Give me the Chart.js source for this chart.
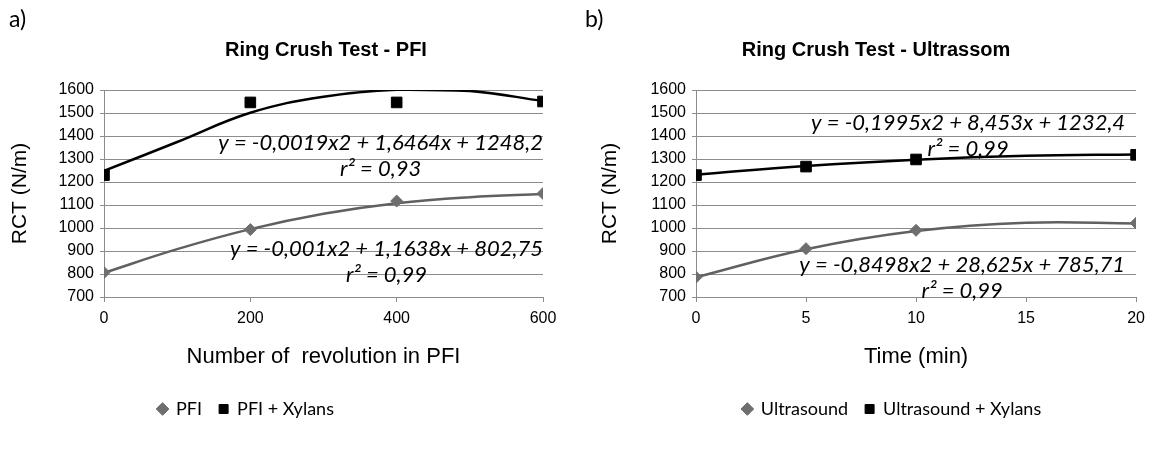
<!DOCTYPE html>
<html>
<head>
<meta charset="utf-8">
<script src="https://cdn.jsdelivr.net/npm/chart.js@4.4.1/dist/chart.umd.min.js"></script>
<style>
  body { margin: 0; background: #fff; }
  .panel { position: absolute; top: 0; width: 576px; height: 453px; }
  .tag { position: absolute; top: 4px; font-family: Lato, "Open Sans", sans-serif; font-size: 23px; color: #000; }
</style>
</head>
<body>
<div class="panel" style="left:0"><canvas id="chartA" width="576" height="453"></canvas></div>
<div class="panel" style="left:576px"><canvas id="chartB" width="576" height="453"></canvas></div>
<div class="tag" style="left:9px">a)</div>
<div class="tag" style="left:585px">b)</div>
<script>
// a) PFI refining
const pfiRevs = [0, 200, 400, 600];
const pfiRct = [806, 993, 1117, 1150];
const pfiXylRct = [1230, 1546, 1546, 1550];
// trendline values
const pfiTrendRevs = [0, 100, 200, 300, 400, 500, 600];
const pfiTrend = [805, 908, 995, 1062, 1108, 1134, 1148];
const pfiXylTrend = [1248, 1374, 1501, 1571, 1601, 1596, 1552];

// b) ultrasound time
const usMinutes = [0, 5, 10, 20];
const usRct = [786, 910, 990, 1021];
const usXylRct = [1230, 1267, 1298, 1318];
const usTrendMinutes = [0, 5, 10, 15, 20];
const usTrend = [786, 908, 987, 1023, 1020];
const usXylTrend = [1232, 1270, 1297, 1314, 1320];

const yMin = 700, yMax = 1600, yStep = 100;

const GRAY = '#6e6e6e';
const BLACK = '#000000';
const GRID = '#8c8c8c';
const ARIAL = 'Liberation Sans, Arial, sans-serif';

function pts(xs, ys) {
  return xs.map((x, i) => ({ x: x, y: ys[i] }));
}

// trendline equation text, anchored by its right edge (x) and middle (y) in data units
const eqPlugin = {
  id: 'eqLabels',
  afterDatasetsDraw(chart, args, opts) {
    const ctx = chart.ctx;
    const xs = chart.scales.x, ys = chart.scales.y;
    ctx.save();
    ctx.fillStyle = '#000';
    ctx.font = 'italic 22px Lato, sans-serif';
    ctx.textBaseline = 'middle';
    opts.labels.forEach(l => {
      const px = xs.getPixelForValue(l.x);
      const py = ys.getPixelForValue(l.y);
      const w = ctx.measureText(l.eq).width;
      ctx.textAlign = 'right';
      ctx.fillText(l.eq, px, py);
      ctx.textAlign = 'center';
      ctx.fillText(l.r2, px - w / 2, py + 26);
    });
    ctx.restore();
  }
};

// move title and legend to the horizontal centres used in the figure
const shiftPlugin = {
  id: 'shiftBlocks',
  afterLayout(chart, args, opts) {
    const t = chart.titleBlock;
    const dt = opts.titleCenter - (t.left + t.right) / 2;
    t.left += dt; t.right += dt;
    const lg = chart.legend;
    const dl = opts.legendCenter - (lg.left + lg.right) / 2;
    lg.left += dl; lg.right += dl;
  }
};

function makeChart(id, cfg) {
  return new Chart(document.getElementById(id), {
    type: 'scatter',
    data: {
      datasets: [
        { label: cfg.names[0], data: pts(cfg.xs, cfg.a), showLine: false,
          pointStyle: 'rectRot', pointRadius: 6, pointHoverRadius: 6,
          backgroundColor: GRAY, borderColor: GRAY, order: 1 },
        { label: cfg.names[1], data: pts(cfg.xs, cfg.b), showLine: false,
          pointStyle: 'rect', pointRadius: 7.5, pointHoverRadius: 7.5,
          backgroundColor: BLACK, borderColor: BLACK, order: 1 },
        { label: 'trendA', data: pts(cfg.tx, cfg.ta), showLine: true, pointRadius: 0,
          borderColor: '#606060', borderWidth: 2.5, tension: 0.4, order: 2 },
        { label: 'trendB', data: pts(cfg.tx, cfg.tb), showLine: true, pointRadius: 0,
          borderColor: BLACK, borderWidth: 2.5, tension: 0.4, order: 2 }
      ]
    },
    options: {
      responsive: false,
      animation: false,
      layout: { padding: { left: 0, right: cfg.padRight, top: 0, bottom: 25 } },
      plugins: {
        title: {
          display: true, text: cfg.title, color: '#000',
          font: { family: ARIAL, size: 20, weight: 'bold' },
          padding: { top: 38, bottom: 28 }
        },
        legend: {
          position: 'bottom',
          labels: {
            usePointStyle: true, boxWidth: 9, boxHeight: 9, padding: 17,
            color: '#000', font: { family: 'Lato, sans-serif', size: 18 },
            filter: item => !item.text.startsWith('trend')
          }
        },
        tooltip: { enabled: false },
        eqLabels: { labels: cfg.labels },
        shiftBlocks: { titleCenter: cfg.titleCenter, legendCenter: cfg.legendCenter }
      },
      scales: {
        x: {
          type: 'linear', min: cfg.xMin, max: cfg.xMax,
          ticks: { stepSize: cfg.xStep, color: '#000', padding: 7,
                   font: { family: ARIAL, size: 16 }, callback: v => String(v) },
          grid: { drawOnChartArea: false, drawTicks: true, tickLength: 5, color: GRID },
          border: { color: GRID },
          title: { display: true, text: cfg.xTitle, color: '#000',
                   font: { family: ARIAL, size: 22 },
                   padding: { top: 4, bottom: 13 } },
          afterFit: s => { s.height = 86; }
        },
        y: {
          min: yMin, max: yMax,
          ticks: { stepSize: yStep, color: '#000', padding: 6,
                   font: { family: ARIAL, size: 16 }, callback: v => String(v) },
          grid: { color: GRID, tickLength: 4 },
          border: { color: GRID },
          title: { display: true, text: 'RCT (N/m)', color: '#000',
                   font: { family: ARIAL, size: 21 },
                   padding: { top: cfg.yTitlePad, bottom: 0 } },
          afterFit: s => { s.width = cfg.yWidth; }
        }
      }
    },
    plugins: [eqPlugin, shiftPlugin]
  });
}

makeChart('chartA', {
  title: 'Ring Crush Test - PFI',
  names: ['PFI', 'PFI + Xylans'],
  xs: pfiRevs, a: pfiRct, b: pfiXylRct,
  tx: pfiTrendRevs, ta: pfiTrend, tb: pfiXylTrend,
  xMin: 0, xMax: 600, xStep: 200,
  xTitle: 'Number of  revolution in PFI',
  yWidth: 104, yTitlePad: 8, padRight: 33,
  titleCenter: 326, legendCenter: 246,
  labels: [
    { eq: 'y = -0,0019x2 + 1,6464x + 1248,2', r2: 'r² = 0,93', x: 600, y: 1370 },
    { eq: 'y = -0,001x2 + 1,1638x + 802,75', r2: 'r² = 0,99', x: 600, y: 910 }
  ]
});

makeChart('chartB', {
  title: 'Ring Crush Test - Ultrassom',
  names: ['Ultrasound', 'Ultrasound + Xylans'],
  xs: usMinutes, a: usRct, b: usXylRct,
  tx: usTrendMinutes, ta: usTrend, tb: usXylTrend,
  xMin: 0, xMax: 20, xStep: 5,
  xTitle: 'Time (min)',
  yWidth: 120, yTitlePad: 22, padRight: 15,
  titleCenter: 300, legendCenter: 316,
  labels: [
    { eq: 'y = -0,1995x2 + 8,453x + 1232,4', r2: 'r² = 0,99', x: 19.5, y: 1455 },
    { eq: 'y = -0,8498x2 + 28,625x + 785,71', r2: 'r² = 0,99', x: 19.5, y: 838 }
  ]
});
</script>
</body>
</html>
